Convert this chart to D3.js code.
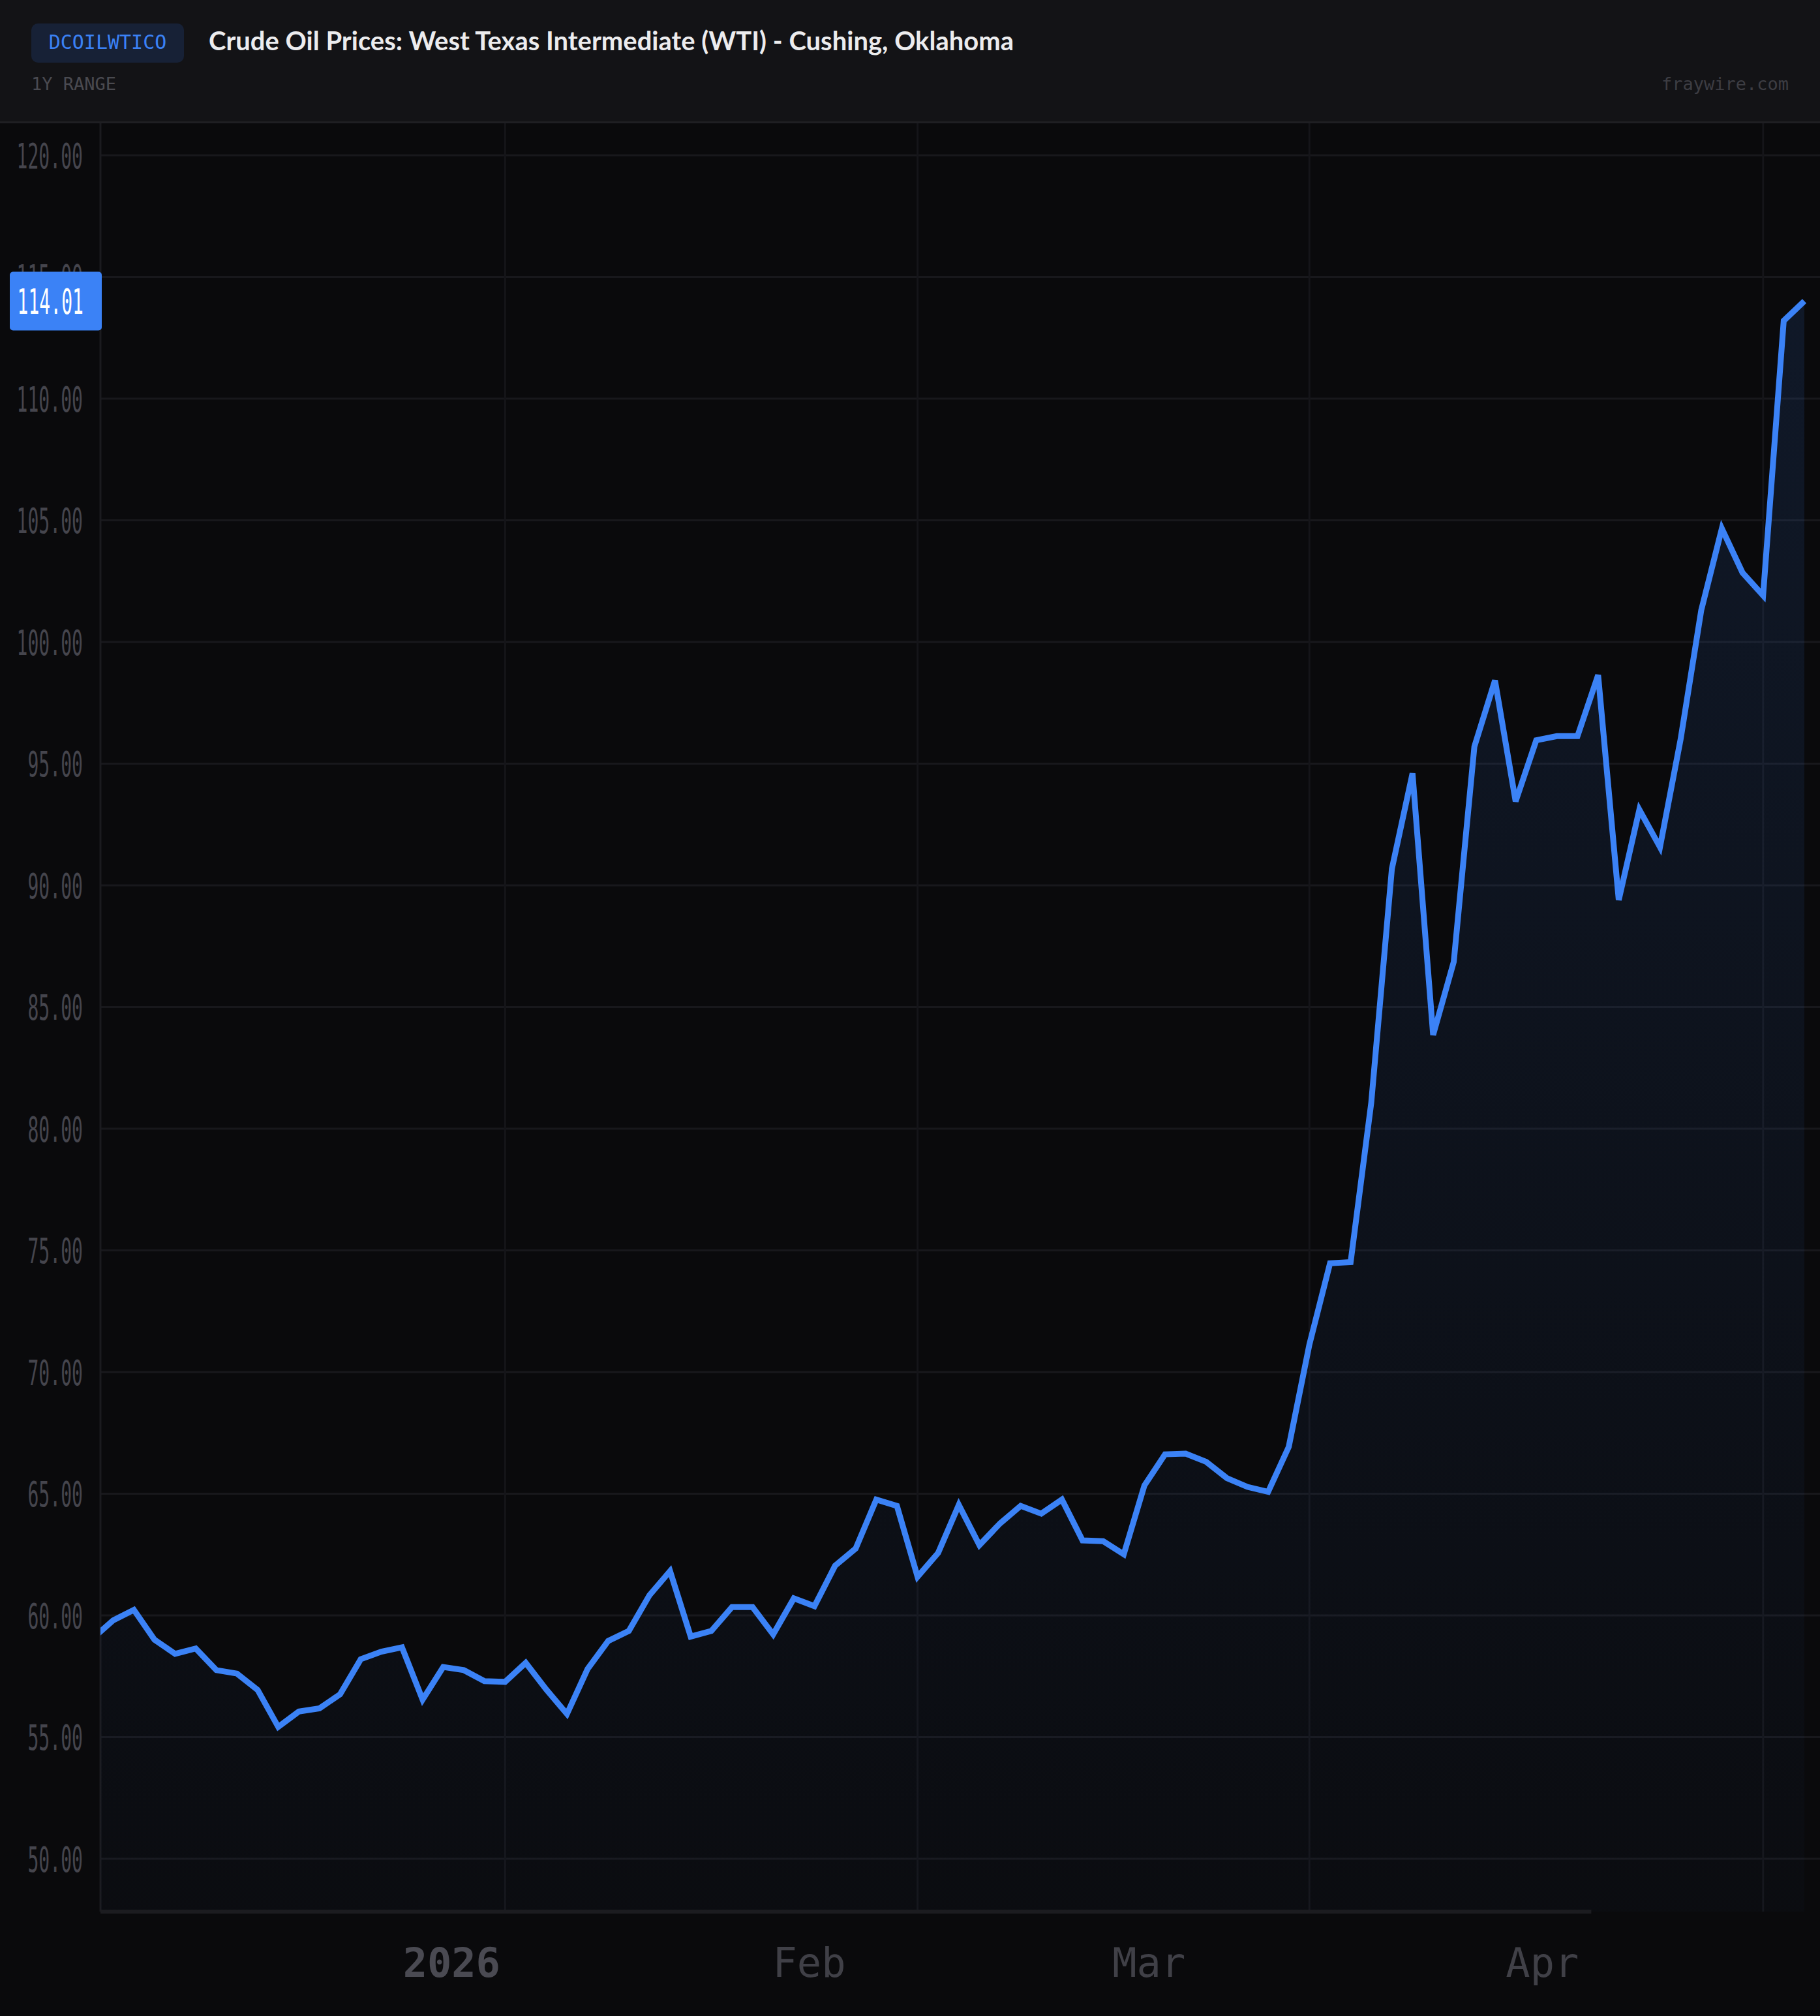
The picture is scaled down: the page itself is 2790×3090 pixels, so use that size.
<!DOCTYPE html>
<html>
<head>
<meta charset="UTF-8">
<script src="https://d3js.org/d3.v7.min.js"></script>
<style>
  html, body { margin: 0; padding: 0; background: #0a0a0c; }
  svg { display: block; }
  .mono { font-family: "DejaVu Sans Mono", "Liberation Mono", monospace; }
  .title { font-family: Lato, "Open Sans", sans-serif; font-weight: 700; }
</style>
</head>
<body>
<svg id="chart"></svg>
<script>
const seriesId = 'DCOILWTICO'
const seriesTitle = 'Crude Oil Prices: West Texas Intermediate (WTI) - Cushing, Oklahoma'
const rangeLabel = '1Y RANGE'
const sourceLabel = 'fraywire.com'

// trading days shown (first one sits just left of the plot edge)
const dates = [
  '2025-12-03','2025-12-04','2025-12-05','2025-12-08','2025-12-09','2025-12-10','2025-12-11','2025-12-12',
  '2025-12-15','2025-12-16','2025-12-17','2025-12-18','2025-12-19','2025-12-22','2025-12-23','2025-12-24',
  '2025-12-26','2025-12-29','2025-12-30','2025-12-31',
  '2026-01-02','2026-01-05','2026-01-06','2026-01-07','2026-01-08','2026-01-09','2026-01-12','2026-01-13',
  '2026-01-14','2026-01-15','2026-01-16','2026-01-20','2026-01-21','2026-01-22','2026-01-23','2026-01-26',
  '2026-01-27','2026-01-28','2026-01-29','2026-01-30',
  '2026-02-02','2026-02-03','2026-02-04','2026-02-05','2026-02-06','2026-02-09','2026-02-10','2026-02-11',
  '2026-02-12','2026-02-13','2026-02-17','2026-02-18','2026-02-19','2026-02-20','2026-02-23','2026-02-24',
  '2026-02-25','2026-02-26','2026-02-27',
  '2026-03-02','2026-03-03','2026-03-04','2026-03-05','2026-03-06','2026-03-09','2026-03-10','2026-03-11',
  '2026-03-12','2026-03-13','2026-03-16','2026-03-17','2026-03-18','2026-03-19','2026-03-20','2026-03-23',
  '2026-03-24','2026-03-25','2026-03-26','2026-03-27','2026-03-30','2026-03-31',
  '2026-04-01','2026-04-02','2026-04-06'
]

const prices = [
  59.05, 59.80, 60.23, 59.00, 58.42, 58.64, 57.75, 57.61,
  56.94, 55.42, 56.05, 56.18, 56.76, 58.20, 58.51, 58.69,
  56.54, 57.88, 57.75, 57.30,
  57.27, 58.05, 56.95, 55.95, 57.80, 58.95, 59.36, 60.83,
  61.82, 59.13, 59.36, 60.34, 60.34, 59.22, 60.70, 60.38,
  62.04, 62.75, 64.76, 64.50,
  61.59, 62.57, 64.54, 62.89, 63.78, 64.50, 64.18, 64.76,
  63.08, 63.05, 62.51, 65.34, 66.62, 66.65, 66.31, 65.64,
  65.28, 65.08, 66.93,
  71.13, 74.47, 74.52, 81.07, 90.68, 94.60, 83.85, 86.86,
  95.70, 98.42, 93.45, 95.96, 96.13, 96.13, 98.64, 89.40,
  93.11, 91.57, 96.00, 101.30, 104.66, 102.85, 101.91,
  113.20, 114.01
]

const yTicks = [50, 55, 60, 65, 70, 75, 80, 85, 90, 95, 100, 105, 110, 115, 120]
const monthLabels = ['2026', 'Feb', 'Mar', 'Apr']

const W = 2790, H = 3090
const headerH = 186
const plot = { left: 154, top: 189, right: 2790, bottom: 2930 }
const axisShrink = 0.867
const blue = '#3b82f6'

const svg = d3.select('#chart').attr('width', W).attr('height', H)

svg.append('rect').attr('width', W).attr('height', H).attr('fill', '#0a0a0c')

// header
svg.append('rect').attr('width', W).attr('height', headerH).attr('fill', '#131316')
svg.append('rect').attr('y', headerH).attr('width', W).attr('height', 3).attr('fill', '#1f1f23')

svg.append('rect')
  .attr('x', 48).attr('y', 36).attr('width', 234).attr('height', 60).attr('rx', 10)
  .attr('fill', '#172136')
svg.append('text').attr('class', 'mono')
  .attr('x', 165).attr('y', 75).attr('text-anchor', 'middle')
  .attr('font-size', 30).attr('fill', blue)
  .text(seriesId)

svg.append('text').attr('class', 'title')
  .attr('x', 320).attr('y', 77)
  .attr('font-size', 40).attr('fill', '#ececee')
  .attr('textLength', 1234).attr('lengthAdjust', 'spacingAndGlyphs')
  .text(seriesTitle)

svg.append('text').attr('class', 'mono')
  .attr('x', 48).attr('y', 138)
  .attr('font-size', 27).attr('fill', '#4a4a50')
  .text(rangeLabel)

svg.append('text').attr('class', 'mono')
  .attr('x', 2742).attr('y', 138).attr('text-anchor', 'end')
  .attr('font-size', 27).attr('fill', '#3d3d43')
  .text(sourceLabel)

// scales
const x = d3.scaleLinear()
  .domain([0, dates.length - 1])
  .range([plot.left - 12, plot.right - 24])

const y = d3.scaleLinear()
  .domain([50, 120])
  .range([2849, 238])

const axisX = d3.scaleLinear()
  .domain(x.domain())
  .range(x.range().map(v => plot.left + (v - plot.left) * axisShrink))

// first trading day of each month
const monthStarts = dates
  .map((d, i) => i)
  .filter(i => i > 0 && dates[i].slice(5, 7) !== dates[i - 1].slice(5, 7))

// grid
svg.append('g')
  .selectAll('line')
  .data(yTicks)
  .join('line')
  .attr('x1', plot.left).attr('x2', plot.right)
  .attr('y1', d => y(d)).attr('y2', d => y(d))
  .attr('stroke', '#18181c').attr('stroke-width', 3)

svg.append('g')
  .selectAll('line')
  .data(monthStarts)
  .join('line')
  .attr('x1', d => x(d)).attr('x2', d => x(d))
  .attr('y1', plot.top).attr('y2', plot.bottom)
  .attr('stroke', '#151519').attr('stroke-width', 3)

svg.append('line')
  .attr('x1', plot.left).attr('x2', plot.left)
  .attr('y1', plot.top).attr('y2', plot.bottom)
  .attr('stroke', '#1b1b1f').attr('stroke-width', 3)

// area + line
const defs = svg.append('defs')
defs.append('clipPath').attr('id', 'plotClip')
  .append('rect')
  .attr('x', plot.left).attr('y', plot.top)
  .attr('width', plot.right - plot.left).attr('height', plot.bottom - plot.top)

const grad = defs.append('linearGradient')
  .attr('id', 'areaGrad').attr('gradientUnits', 'userSpaceOnUse')
  .attr('x1', 0).attr('x2', 0).attr('y1', plot.top).attr('y2', plot.bottom)
grad.append('stop').attr('offset', '0%').attr('stop-color', blue).attr('stop-opacity', 0.13)
grad.append('stop').attr('offset', '100%').attr('stop-color', blue).attr('stop-opacity', 0.02)

const g = svg.append('g').attr('clip-path', 'url(#plotClip)')

g.append('path')
  .datum(prices)
  .attr('fill', 'url(#areaGrad)')
  .attr('d', d3.area()
    .x((d, i) => x(i))
    .y0(plot.bottom)
    .y1(d => y(d)))

g.append('path')
  .datum(prices)
  .attr('fill', 'none')
  .attr('stroke', blue)
  .attr('stroke-width', 9)
  .attr('d', d3.line()
    .x((d, i) => x(i))
    .y(d => y(d)))

// x axis (drawn on its own, narrower range)
svg.append('line')
  .attr('x1', plot.left)
  .attr('x2', plot.left + (plot.right - plot.left) * axisShrink)
  .attr('y1', plot.bottom).attr('y2', plot.bottom)
  .attr('stroke', '#1c1c20').attr('stroke-width', 6)

const xAxis = svg.append('g')
  .attr('transform', `translate(0, ${plot.bottom})`)
  .call(d3.axisBottom(axisX)
    .tickValues(monthStarts)
    .tickFormat((d, i) => monthLabels[i])
    .tickSize(0)
    .tickPadding(56))
xAxis.select('.domain').remove()
xAxis.selectAll('text')
  .attr('class', 'mono')
  .attr('font-size', 62)
  .attr('fill', (d, i) => i === 0 ? '#4a4a52' : '#404047')
  .attr('font-weight', (d, i) => i === 0 ? 700 : 400)

// y axis labels (condensed)
const yAxis = svg.append('g')
  .attr('transform', 'translate(127, 0)')
  .call(d3.axisLeft(y)
    .tickValues(yTicks)
    .tickFormat(d3.format('.2f'))
    .tickSize(0)
    .tickPadding(0))
yAxis.select('.domain').remove()
yAxis.selectAll('text')
  .attr('class', 'mono')
  .attr('font-size', 53)
  .attr('fill', '#45454d')
  .attr('x', 0)
  .attr('dy', '0.36em')
  .attr('transform', 'scale(0.53, 1)')

// last value badge
const last = prices[prices.length - 1]
svg.append('rect')
  .attr('x', 15).attr('y', y(last) - 45)
  .attr('width', plot.left + 2 - 15).attr('height', 90)
  .attr('rx', 5)
  .attr('fill', blue)
svg.append('text').attr('class', 'mono')
  .attr('transform', `translate(128, ${y(last)}) scale(0.53, 1)`)
  .attr('text-anchor', 'end')
  .attr('dy', '0.36em')
  .attr('font-size', 53)
  .attr('fill', '#ffffff')
  .text(d3.format('.2f')(last))
</script>
</body>
</html>
